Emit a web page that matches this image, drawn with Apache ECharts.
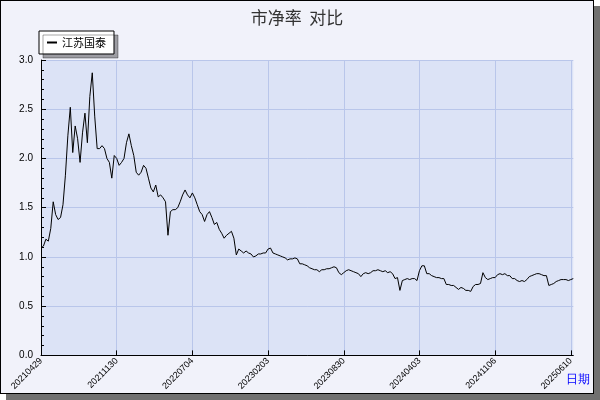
<!DOCTYPE html>
<html><head><meta charset="utf-8">
<script src="https://cdn.jsdelivr.net/npm/echarts@6/dist/echarts.min.js"></script>
<style>
html,body{margin:0;padding:0;background:#fff;}
#c{position:absolute;left:0;top:0;width:592px;height:392px;border:1px solid #000;background:#f1f2fa;box-shadow:6px 6px 0 #707070;}
</style></head><body>
<div id="c"></div>
<script>
const title = '市净率  对比';
const seriesName = '江苏国泰';
const tickLabels = ['20210429','20211130','20220704','20230203','20230830','20240403','20241106','20250610'];
const values = [
1.09,1.11,1.18,1.16,1.29,1.56,1.43,1.38,1.40,1.53,
1.83,2.23,2.52,2.06,2.33,2.20,1.96,2.26,2.46,2.16,
2.63,2.87,2.43,2.10,2.10,2.13,2.10,2.00,1.96,1.80,
2.03,2.00,1.93,1.96,2.00,2.16,2.25,2.13,2.03,1.86,
1.83,1.86,1.93,1.90,1.80,1.70,1.66,1.73,1.61,1.63,
1.60,1.56,1.22,1.46,1.48,1.48,1.50,1.56,1.63,1.68,
1.63,1.60,1.65,1.60,1.53,1.46,1.43,1.36,1.43,1.46,
1.40,1.33,1.35,1.28,1.24,1.19,1.22,1.24,1.26,1.19,
1.02,1.08,1.06,1.04,1.06,1.04,1.03,1.00,1.01,1.03,
1.03,1.04,1.04,1.08,1.09,1.04,1.03,1.02,1.01,1.00,
0.99,0.97,0.98,0.98,0.99,0.98,0.93,0.93,0.92,0.91,
0.89,0.88,0.87,0.87,0.85,0.87,0.87,0.88,0.88,0.89,
0.90,0.89,0.84,0.82,0.84,0.86,0.87,0.86,0.85,0.84,
0.83,0.80,0.83,0.84,0.83,0.84,0.86,0.86,0.87,0.86,
0.85,0.86,0.84,0.85,0.83,0.78,0.79,0.66,0.76,0.77,
0.78,0.77,0.78,0.78,0.76,0.86,0.91,0.91,0.83,0.83,
0.81,0.80,0.79,0.79,0.78,0.78,0.72,0.72,0.71,0.71,
0.69,0.67,0.69,0.68,0.66,0.66,0.65,0.70,0.72,0.72,
0.73,0.84,0.79,0.77,0.78,0.79,0.79,0.82,0.83,0.82,
0.83,0.81,0.81,0.78,0.78,0.76,0.75,0.76,0.75,0.77,
0.80,0.81,0.82,0.83,0.83,0.82,0.81,0.81,0.71,0.72,
0.73,0.75,0.76,0.77,0.77,0.77,0.76,0.77,0.78
];
const labelStep = 31;
const categories = values.map((v,i)=>String(i));
const chart = echarts.init(document.getElementById('c'), null, {renderer:'canvas'});
chart.setOption({
  animation:false,
  backgroundColor:'#f1f2fa',
  title:{text:title,left:'center',top:3,textStyle:{fontSize:17,fontWeight:'normal',color:'#333',fontFamily:'Noto Sans CJK SC'}},
  legend:{left:38,top:30,itemWidth:10,itemHeight:2,padding:[6,8,6,8],backgroundColor:'#fff',borderColor:'#000',borderWidth:1,
    shadowColor:'rgba(0,0,0,0.35)',shadowOffsetX:4,shadowOffsetY:4,shadowBlur:0,
    textStyle:{fontSize:11,color:'#000',fontFamily:'Noto Sans CJK SC'},
    data:[{name:seriesName,icon:'rect'}]},
  grid:{left:40,right:9,top:59,bottom:32,backgroundColor:'#dce3f6',show:true,borderWidth:0},
  xAxis:{type:'category',data:categories,boundaryGap:false,
    axisLine:{lineStyle:{color:'#000'}},
    axisTick:{interval:labelStep-1,length:-5,lineStyle:{color:'#000'}},
    axisLabel:{interval:labelStep-1,rotate:45,fontSize:9,color:'#000',margin:4,
      formatter:(v,i)=>tickLabels[Math.round(i/labelStep)]||''},
    splitLine:{show:true,interval:labelStep-1,lineStyle:{color:'#b9c6ea'}},
    name:'日期',nameLocation:'end',nameGap:-24,nameTextStyle:{color:'#0000ff',fontSize:12,verticalAlign:'top',padding:[18,0,0,0]}},
  yAxis:{type:'value',min:0,max:3,interval:0.5,
    axisLine:{show:true,lineStyle:{color:'#000'}},
    axisTick:{show:true,inside:true,length:5,lineStyle:{color:'#000'}},
    minorTick:{show:true,splitNumber:5,length:3,lineStyle:{color:'#000'}},
    axisLabel:{fontSize:10,color:'#000',formatter:v=>v.toFixed(1)},
    splitLine:{lineStyle:{color:'#b9c6ea'}}},
  series:[{name:seriesName,type:'line',data:values,symbol:'none',lineStyle:{color:'#000',width:1},itemStyle:{color:'#000'}}]
});
</script></body></html>
